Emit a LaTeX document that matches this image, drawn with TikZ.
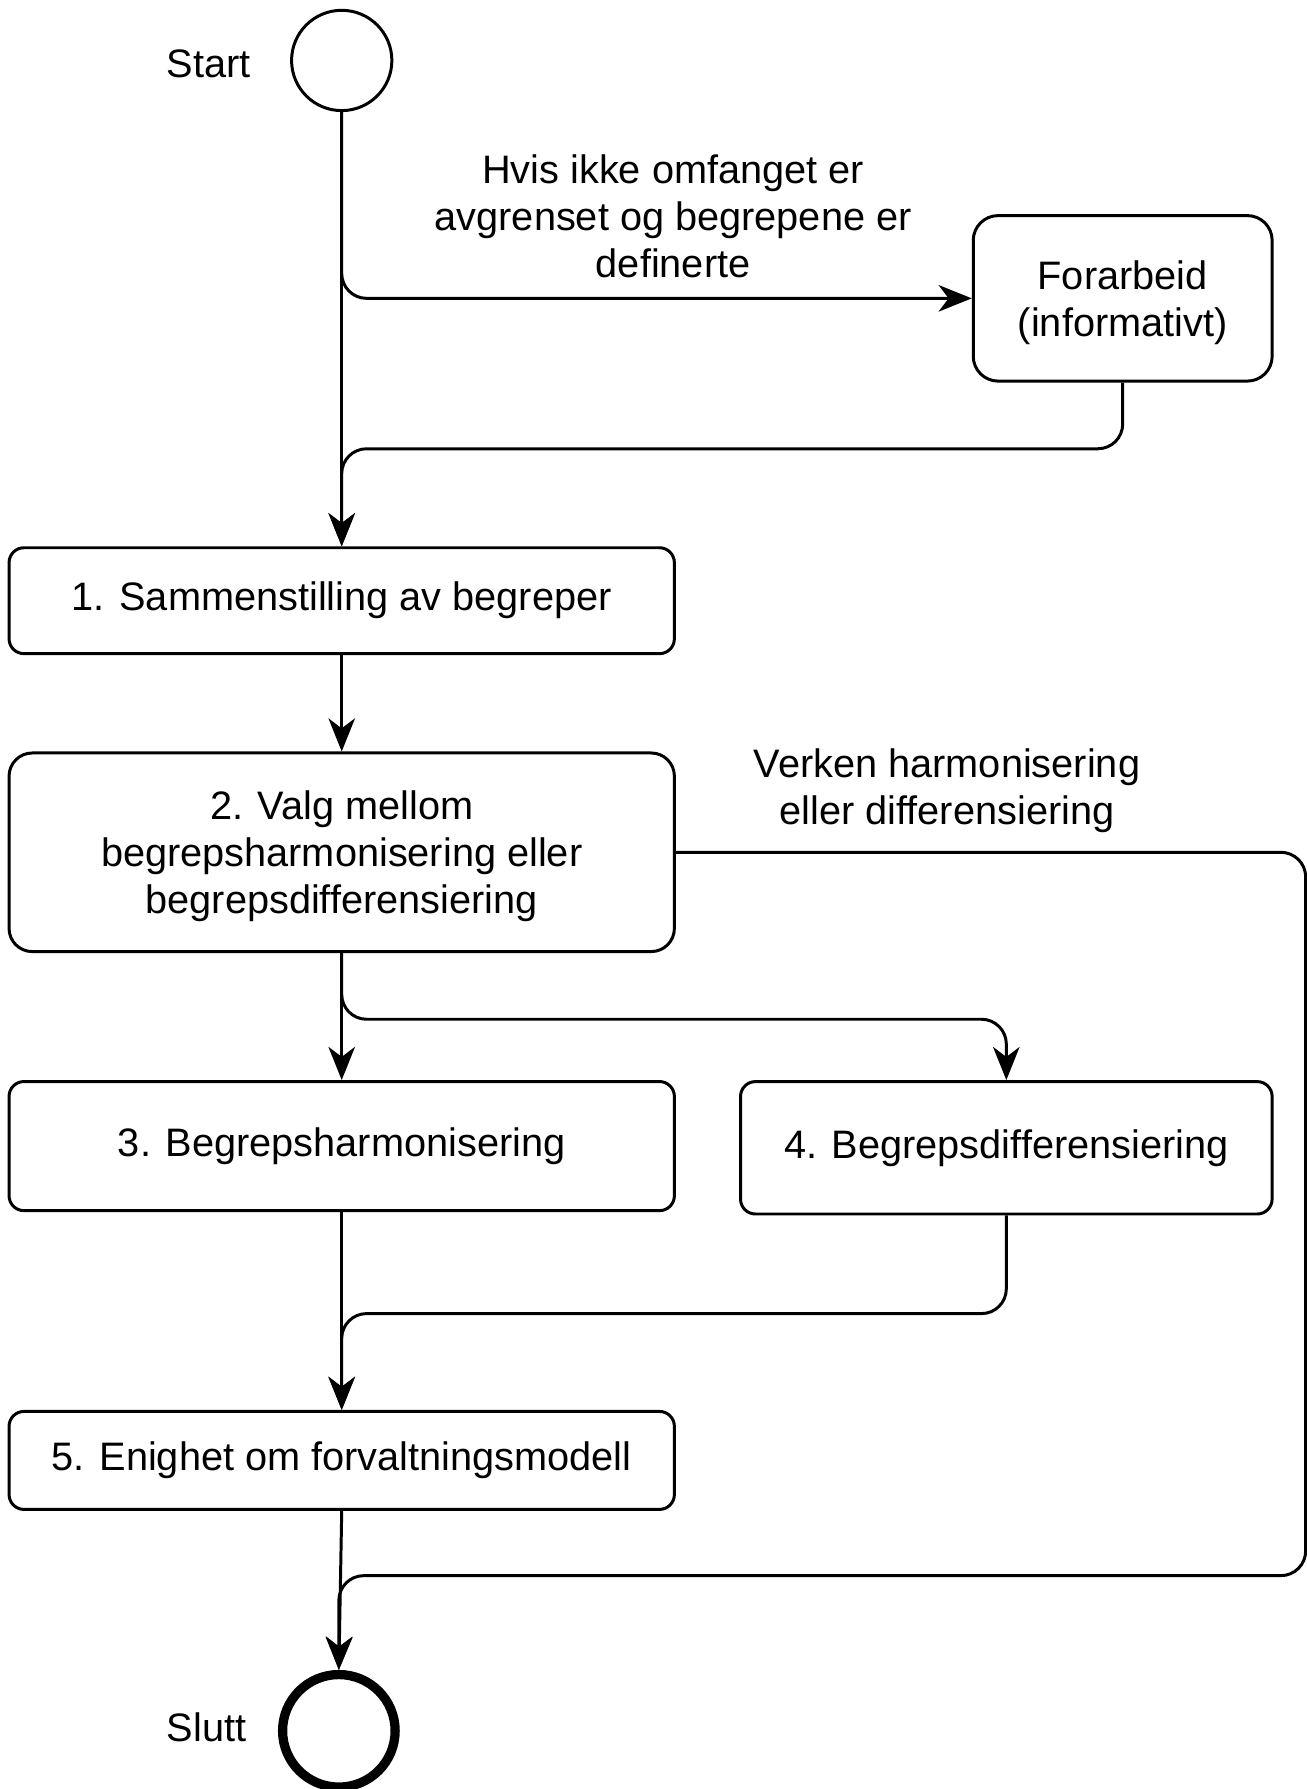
\documentclass[tikz,border=0pt]{standalone}
\usepackage{fontspec}
\setmainfont{Liberation Sans}
\usetikzlibrary{arrows.meta}

\begin{document}
\begin{tikzpicture}[x=0.3447pt, y=-0.3447pt, line width=0.9pt,
  every node/.style={font=\fontsize{12}{14.2}\selectfont},
  box/.style={draw, rounded corners=4.5pt, minimum width=201pt, inner sep=0pt, align=center},
  lowtext/.style={text depth=-1.5pt},
  conn/.style={-{Stealth[length=10pt, width=8pt, inset=3pt]}, rounded corners=7.5pt}]
\useasboundingbox (0,0) rectangle (1145,1568);
% start and end
\node[draw, circle, minimum size=30.3pt, inner sep=0pt] (start) at (299.5,53) {};
\node at (183,56) {Start};
\node[draw, circle, line width=2.8pt, minimum size=34pt, inner sep=0pt] (slutt) at (297,1517) {};
\node at (181,1514) {Slutt};
% steps
\node[box, lowtext, minimum width=90.3pt, minimum height=50pt, rounded corners=7.5pt] (forarb) at (984,261.5) {Forarbeid\\(informativt)};
\node[box, minimum height=32pt] (b1) at (299.5,526.5) {1. Sammenstilling av begreper};
\node[box, lowtext, minimum height=60pt, rounded corners=7pt] (b2) at (299.5,747) {2. Valg mellom\\begrepsharmonisering eller\\begrepsdifferensiering};
\node[box, minimum height=39pt] (b3) at (299.5,1004.5) {3. Begrepsharmonisering};
\node[box, minimum width=160.6pt, minimum height=40pt] (b4) at (882,1006) {4. Begrepsdifferensiering};
\node[box, minimum height=29.6pt] (b5) at (299.5,1280) {5. Enighet om forvaltningsmodell};
% labels
\node[align=center] (lbl1) at (590,190) {Hvis ikke omfanget er\\avgrenset og begrepene er\\definerte};
\node[align=center] (lbl2) at (830,693) {Verken harmonisering\\eller differensiering};
% connectors
\draw[conn] (start.south) -- (b1.north);
\draw[conn] (start.south) |- (forarb.west);
\draw[conn] (forarb.south) -- ++(0,58) -| (b1.north);
\draw[conn] (b1.south) -- (b2.north);
\draw[conn] (b2.south) -- (b3.north);
\draw[conn] (b2.south) -- ++(0,58) -| (b4.north);
\draw[conn] (b3.south) -- (b5.north);
\draw[conn] (b4.south) -- ++(0,86) -| (b5.north);
\draw[conn] (b2.east) -| ++(552,634) -| (slutt.north);
\draw[conn] (b5.south) -- (slutt.north);
\end{tikzpicture}
\end{document}
